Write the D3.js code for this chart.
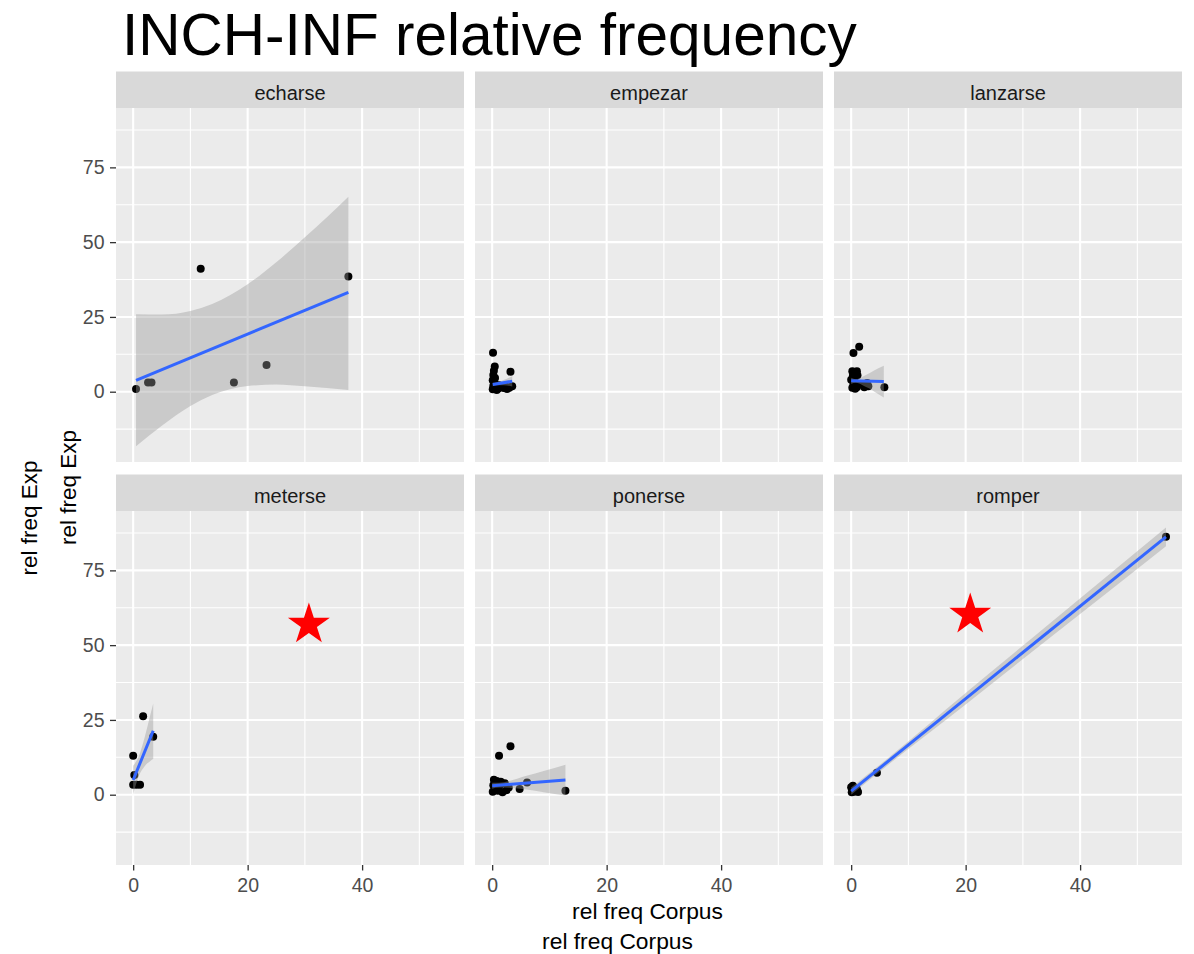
<!DOCTYPE html>
<html><head><meta charset="utf-8">
<script src="https://cdn.jsdelivr.net/npm/d3@7"></script>
<style>
body{margin:0;background:#fff;}
text{font-family:"Liberation Sans",Arial,Helvetica,sans-serif;}
</style>
</head><body>
<svg id="chart" width="1194" height="954"></svg>
<script>
// ---------------- data ----------------
const facets = ["echarse","empezar","lanzarse","meterse","ponerse","romper"];
const xTicks = [0,20,40];
const xMinor = [10,30,50];
const yTicks = [0,25,50,75];
const yMinor = [-12.5,12.5,37.5,62.5,87.5];

// points: [rel freq Corpus, rel freq Exp]
const echarsePts = [[0.5,0.9],[2.6,3.1],[3.2,3.1],[11.8,41.1],[17.6,3.1],[23.3,8.9],[37.6,38.5]];
const empezarPts = [[0.15,13.0],[0.45,8.4],[3.2,6.7],[0.3,7.0],[0.2,5.6],[0.5,4.6],[0.1,3.8],[0.4,2.9],[0.2,1.9],[0.6,1.2],[0.1,0.8],[1.0,1.0],[1.5,1.6],[2.0,1.2],[2.6,0.9],[3.0,1.3],[3.5,1.8],[1.2,2.2],[0.8,0.6],[2.3,2.0]];
const lanzarsePts = [[0.4,12.9],[1.4,15.0],[0.2,6.8],[1.0,6.8],[0.3,5.3],[1.1,5.5],[0.0,4.0],[0.4,2.6],[0.2,1.3],[1.0,1.5],[1.6,2.5],[2.3,1.5],[3.0,1.8],[0.6,3.5],[0.7,1.0],[2.8,2.9],[5.8,1.5]];
const meterserPts = [[1.74,26.2],[3.5,19.4],[0.0,13.0],[0.2,6.6],[0.0,3.3],[0.6,3.3],[1.2,3.3]];
const ponersePts = [[3.2,16.2],[1.2,13.0],[0.3,5.0],[0.8,4.6],[1.5,4.3],[0.2,3.2],[0.6,2.0],[0.1,1.0],[1.0,1.3],[1.8,0.8],[2.5,1.5],[1.3,3.0],[2.2,3.8],[0.4,1.5],[2.9,2.4],[4.8,1.9],[6.1,4.1],[12.8,1.3]];
const romperPts = [[0.0,2.5],[0.2,1.5],[0.5,1.0],[0.8,1.2],[1.2,0.9],[0.3,3.0],[0.1,0.8],[0.6,2.2],[1.0,1.8],[4.5,7.3],[55.0,86.2]];

// fitted line end points: [x, y]
const echarseFit = [[0.5,3.8],[37.6,33.2]];
const empezarFit = [[0.1,2.4],[3.5,3.5]];
const lanzarseFit = [[0.0,3.7],[5.7,3.4]];
const meterseFit = [[0.0,4.9],[3.5,21.4]];
const ponerseFit = [[0.0,3.0],[12.8,4.9]];
const romperFit = [[0.0,1.2],[55.0,86.2]];

// confidence band: [x, lower, upper]
const echarseBand = [[0.5,-18.2,25.9],[5,-11.4,25.8],[10,-4.8,27.0],[13.8,-1.1,29.3],[20,1.9,35.9],[25,2.4,43.3],[30,1.8,51.6],[37.6,0.6,65.2]];
const empezarBand = [[0.1,1.8,3.0],[0.8,2.2,3.1],[2,2.2,3.9],[3.5,1.7,5.2]];
const lanzarseBand = [[0,2.6,4.7],[0.8,3.0,4.2],[2,2.2,5.0],[3,1.2,6.0],[4,0.1,7.1],[5.7,-1.9,8.7]];
const meterseBand = [[0,0.1,9.7],[1,6.3,12.9],[2,9.5,19.1],[3,11.3,26.7],[3.5,11.9,30.5]];
const ponerseBand = [[0,2.0,4.0],[1.2,2.4,4.0],[3,2.3,4.6],[6,1.7,6.3],[9,0.8,7.9],[12.8,-0.3,10.0]];
const romperBand = [[0,0.0,2.4],[6,9.3,11.5],[20,30.2,34.0],[35,52.9,57.7],[55,83.1,89.3]];

// star annotations
const starFacets = ["meterse","romper"];
const starCorpus = [30.7,20.8];
const starExp = [56.9,60.2];

const titleText = "INCH-INF relative frequency";
const xTitle = "rel freq Corpus";
const yTitle = "rel freq Exp";

// ---------------- layout ----------------
const pts = [echarsePts, empezarPts, lanzarsePts, meterserPts, ponersePts, romperPts];
const fits = [echarseFit, empezarFit, lanzarseFit, meterseFit, ponerseFit, romperFit];
const bands = [echarseBand, empezarBand, lanzarseBand, meterseBand, ponerseBand, romperBand];

const colLeft = [116, 475, 834];
const rowTop = [108, 511];
const pw = 348, ph = 354, stripH = 36.5;

const svg = d3.select("#chart");
const x = d3.scaleLinear().domain([-3.0, 57.8]).range([0, pw]);
const y = d3.scaleLinear().domain([-23.5, 94.85]).range([ph, 0]);

const area = d3.area().x(d => x(d[0])).y0(d => y(d[1])).y1(d => y(d[2])).curve(d3.curveMonotoneX);
const line = d3.line().x(d => x(d[0])).y(d => y(d[1]));

facets.forEach((name, i) => {
  const c = i % 3, r = Math.floor(i / 3);
  const g = svg.append("g").attr("transform", `translate(${colLeft[c]},${rowTop[r]})`);
  // strip
  g.append("rect").attr("x", 0).attr("y", -stripH).attr("width", pw).attr("height", stripH).attr("fill", "#d9d9d9");
  g.append("text").attr("x", pw / 2).attr("y", -8).attr("text-anchor", "middle")
    .attr("font-size", 20).attr("fill", "#1a1a1a").text(name);
  // panel
  g.append("rect").attr("width", pw).attr("height", ph).attr("fill", "#ebebeb");
  const clipId = "clip" + i;
  g.append("clipPath").attr("id", clipId).append("rect").attr("width", pw).attr("height", ph);
  const grid = g.append("g");
  grid.selectAll(".ymn").data(yMinor).enter().append("line")
    .attr("x1", 0).attr("x2", pw).attr("y1", d => y(d)).attr("y2", d => y(d))
    .attr("stroke", "#fff").attr("stroke-width", 1.1);
  grid.selectAll(".xmn").data(xMinor).enter().append("line")
    .attr("y1", 0).attr("y2", ph).attr("x1", d => x(d)).attr("x2", d => x(d))
    .attr("stroke", "#fff").attr("stroke-width", 1.1);
  grid.selectAll(".ymj").data(yTicks).enter().append("line")
    .attr("x1", 0).attr("x2", pw).attr("y1", d => y(d)).attr("y2", d => y(d))
    .attr("stroke", "#fff").attr("stroke-width", 2.1);
  grid.selectAll(".xmj").data(xTicks).enter().append("line")
    .attr("y1", 0).attr("y2", ph).attr("x1", d => x(d)).attr("x2", d => x(d))
    .attr("stroke", "#fff").attr("stroke-width", 2.1);

  const data = g.append("g").attr("clip-path", `url(#${clipId})`);
  data.selectAll("circle").data(pts[i]).enter().append("circle")
    .attr("cx", d => x(d[0])).attr("cy", d => y(d[1])).attr("r", 4).attr("fill", "#000");
  data.append("path").datum(bands[i]).attr("d", area).attr("fill", "#999999").attr("fill-opacity", 0.4);
  data.append("path").datum(fits[i]).attr("d", line).attr("stroke", "#3366FF").attr("stroke-width", 3)
    .attr("fill", "none");

  starFacets.forEach((sf, k) => {
    if (sf === name) {
      data.append("path").attr("d", d3.symbol().type(d3.symbolStar).size(545)())
        .attr("transform", `translate(${x(starCorpus[k])},${y(starExp[k])})`).attr("fill", "#ff0000");
    }
  });

  // axes
  if (c === 0) {
    const ax = g.append("g").call(d3.axisLeft(y).tickValues(yTicks).tickSize(6).tickPadding(5.5));
    ax.select(".domain").remove();
    ax.selectAll(".tick line").attr("stroke", "#333333").attr("stroke-width", 1.3);
    ax.selectAll(".tick text").attr("fill", "#4d4d4d").attr("font-size", 19.5)
      .attr("font-family", '"Liberation Sans",Arial,sans-serif');
  }
  if (r === 1) {
    const ax = g.append("g").attr("transform", `translate(0,${ph})`)
      .call(d3.axisBottom(x).tickValues(xTicks).tickSize(5.5).tickPadding(8));
    ax.select(".domain").remove();
    ax.selectAll(".tick line").attr("stroke", "#333333").attr("stroke-width", 1.3);
    ax.selectAll(".tick text").attr("fill", "#4d4d4d").attr("font-size", 19.5)
      .attr("font-family", '"Liberation Sans",Arial,sans-serif');
  }
});

// titles
svg.append("text").attr("x", 122).attr("y", 55).attr("font-size", 58.5).attr("fill", "#000").text(titleText);
svg.append("text").attr("x", 647.5).attr("y", 919).attr("text-anchor", "middle").attr("font-size", 22.8).attr("fill", "#000").text(xTitle);
svg.append("text").attr("x", 617.5).attr("y", 949).attr("text-anchor", "middle").attr("font-size", 22.8).attr("fill", "#000").text(xTitle);
svg.append("text").attr("transform", "translate(76,487.5) rotate(-90)").attr("text-anchor", "middle").attr("font-size", 22.5).attr("fill", "#000").text(yTitle);
svg.append("text").attr("transform", "translate(37,518) rotate(-90)").attr("text-anchor", "middle").attr("font-size", 22.5).attr("fill", "#000").text(yTitle);
</script>
</body></html>
